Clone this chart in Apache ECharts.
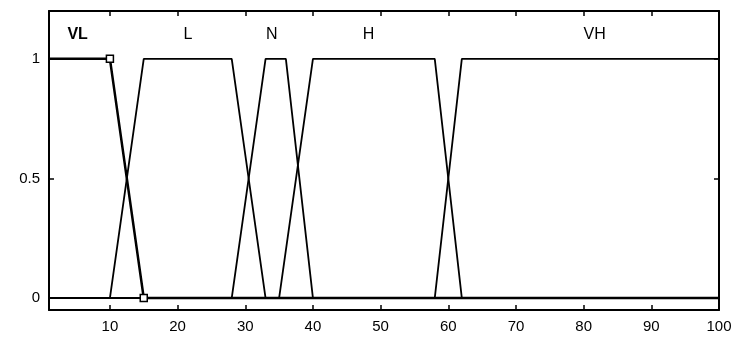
<!DOCTYPE html>
<html>
<head>
<meta charset="utf-8">
<script src="https://cdn.jsdelivr.net/npm/echarts@6/dist/echarts.min.js"></script>
<style>
  html, body { margin: 0; padding: 0; background: #fff; }
  #chart { width: 736px; height: 341px; }
</style>
</head>
<body>
<div id="chart"></div>
<script>
// trapezoid breakpoints [a, b, c, d] for each membership function
const mfNames = ["VL", "L", "N", "H", "VH"];
const mfParams = [
  [0, 0, 10, 15],
  [10, 15, 28, 33],
  [28, 33, 36, 40],
  [35, 40, 58, 62],
  [58, 62, 100, 100]
];
const labelX = [5.3, 21.6, 34, 48.3, 81.7];
const labelY = 1.1;
const selectedVertices = [[10, 1], [15, 0]];
const xTicks = [10, 20, 30, 40, 50, 60, 70, 80, 90, 100];
const yTicks = [0, 0.5, 1];
const xMin = 1, xMax = 100;

function trapezoid(p) {
  const pts = [];
  const [a, b, c, d] = p;
  pts.push([xMin, a <= xMin && b <= xMin ? 1 : 0]);
  if (a > xMin) pts.push([a, 0]);
  if (b > xMin) pts.push([b, 1]);
  pts.push([c, 1]);
  if (d > c) pts.push([d, 0]);
  if (d < xMax) pts.push([xMax, 0]);
  return pts;
}

const font = { color: "#000", fontSize: 15, fontFamily: "Liberation Sans, Arial, sans-serif" };
const frame = { show: true, onZero: false, lineStyle: { color: "#000", width: 2 } };
const tick = (vals) => ({ show: true, inside: true, length: 5, customValues: vals, lineStyle: { color: "#000", width: 1.5 } });

const chart = echarts.init(document.getElementById("chart"));
chart.setOption({
  animation: false,
  backgroundColor: "#fff",
  grid: { left: 49, right: 17, top: 11, bottom: 31 },
  xAxis: [
    {
      type: "value", min: xMin, max: xMax, position: "bottom",
      axisLine: frame, axisTick: tick(xTicks),
      axisLabel: { ...font, margin: 9, customValues: xTicks },
      splitLine: { show: false }
    },
    {
      type: "value", min: xMin, max: xMax, position: "top",
      axisLine: frame, axisTick: tick(xTicks),
      axisLabel: { show: false }, splitLine: { show: false }
    }
  ],
  yAxis: [
    {
      type: "value", min: -0.05, max: 1.2, position: "left",
      axisLine: frame, axisTick: tick(yTicks),
      axisLabel: { ...font, margin: 9, customValues: yTicks, formatter: (v) => String(v) },
      splitLine: { show: false }
    },
    {
      type: "value", min: -0.05, max: 1.2, position: "right",
      axisLine: frame, axisTick: tick(yTicks),
      axisLabel: { show: false }, splitLine: { show: false }
    }
  ],
  series: [
    ...mfParams.map((p, i) => ({
      name: mfNames[i],
      type: "line",
      data: trapezoid(p),
      symbol: "none",
      lineStyle: { color: "#000", width: i === 0 ? 2.5 : 1.8 },
      z: i === 0 ? 5 : 3
    })),
    {
      type: "scatter",
      data: selectedVertices,
      symbol: "rect",
      symbolSize: 7,
      itemStyle: { color: "#fff", borderColor: "#000", borderWidth: 1.5, opacity: 1 },
      emphasis: { disabled: true },
      z: 6
    },
    {
      type: "scatter",
      symbolSize: 1,
      itemStyle: { color: "#000", opacity: 0 },
      data: labelX.map((x, i) => ({
        name: mfNames[i],
        value: [x, labelY],
        label: { fontWeight: i === 0 ? "bold" : "normal" }
      })),
      label: {
        show: true, position: [0, 0], align: "center", verticalAlign: "middle",
        formatter: "{b}", ...font, fontSize: 16, opacity: 1
      },
      emphasis: { disabled: true },
      z: 7
    }
  ]
});
</script>
</body>
</html>
